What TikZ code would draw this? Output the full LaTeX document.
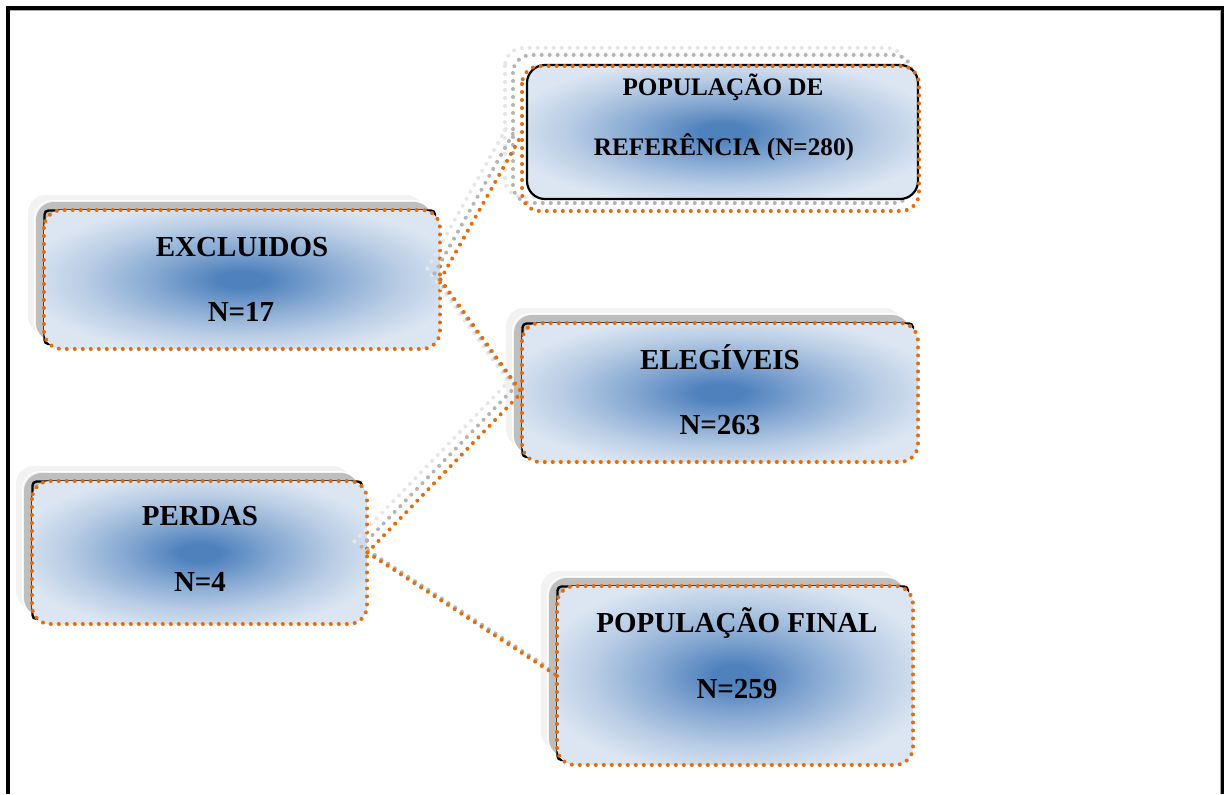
\documentclass[tikz,border=0pt]{standalone}
\usepackage{fontspec}
\setmainfont{Liberation Serif}
\usetikzlibrary{fit}

\definecolor{core}{HTML}{4F81BD}
\definecolor{edgeblue}{HTML}{DCE6F2}
\definecolor{dotorange}{HTML}{E46C0A}
\definecolor{shadegray}{HTML}{BEBEBE}
\definecolor{halogray}{HTML}{F2F2F2}
\definecolor{dotgray}{HTML}{B4B4B4}
\definecolor{dotlight}{HTML}{E6E6E6}

% soft blue glow in the middle of each box
\pgfdeclareradialshading{glow}{\pgfpoint{0bp}{0bp}}{%
  color(0bp)=(core); color(3bp)=(core); color(11bp)=(core!62!edgeblue);
  color(20bp)=(core!25!edgeblue); color(28bp)=(edgeblue); color(50bp)=(edgeblue)}

\tikzset{
  dots/.style={line width=2pt, line cap=round, dash pattern=on 0.01pt off 3.99pt},
  orangedots/.style={dots, draw=dotorange},
  graydots/.style={dots, draw=dotgray},
  lightdots/.style={dots, draw=dotlight},
  lbl/.style={font=\bfseries\fontsize{14.5}{17}\selectfont, inner sep=0pt, anchor=base},
  lblsmall/.style={font=\bfseries\fontsize{12.6}{15}\selectfont, inner sep=0pt, anchor=base},
  area/.style={inner sep=0pt, draw=none},
}

% shadowed, shaded box with dotted orange outline: x1 y1 x2 y2
\newcommand\flowbox[4]{%
  \fill[halogray, rounded corners=9pt] (#1-16,#2-15) rectangle (#3-16,#4-15);
  \draw[white, line width=0.5pt, rounded corners=9pt] (#1-9.5,#2-9.5) rectangle (#3-9.5,#4-9.5);
  \fill[shadegray, rounded corners=9pt] (#1-8,#2-8) rectangle (#3-8,#4-8);
  \draw[black, line width=1.2pt, rounded corners=2pt] (#1+0.5,#2+0.5) rectangle (#3-5,#4-5);
  \shade[shading=glow, rounded corners=9pt] (#1,#2) rectangle (#3,#4);
  \draw[orangedots, rounded corners=9pt] (#1,#2) rectangle (#3,#4);
}

% dotted connector with its two fading shadows
\newcommand\link[2]{%
  \draw[lightdots] ([shift={(-13,-11)}]#1) -- ([shift={(-13,-11)}]#2);
  \draw[graydots] ([shift={(-6,-6)}]#1) -- ([shift={(-6,-6)}]#2);
  \draw[orangedots] (#1) -- (#2);
}

\begin{document}
\begin{tikzpicture}[x=0.5pt, y=-0.5pt]
\useasboundingbox (0,0) rectangle (1224,794);

% outer frame
\draw[line width=2pt] (8,794) -- (8,8) -- (1222,8) -- (1222,794);
\draw[gray!70, line width=0.6pt] (10,10.4) -- (1220.4,10.4) -- (1220.4,794);

% box areas
\node[area, fit={(522,65) (918,205)}] (popref) {};
\node[area, fit={(44,210) (440,349)}] (excl) {};
\node[area, fit={(522,323) (918,462)}] (elig) {};
\node[area, fit={(32,481) (367,624)}] (perdas) {};
\node[area, fit={(557,586) (913,765)}] (final) {};

% reference population box (solid outline, offset dotted rings)
\draw[lightdots, rounded corners=9pt] (505,48) rectangle (905,197);
\draw[graydots, rounded corners=9pt] (513,55) rectangle (912,203);
\shade[shading=glow, rounded corners=9pt] (527,65) rectangle (918,199);
\draw[black, line width=1.1pt, rounded corners=9pt] (527,65) rectangle (918,199);
\draw[orangedots, rounded corners=9pt] (522,66) rectangle (919,211);

% remaining boxes
\flowbox{44}{210}{440}{349}
\flowbox{522}{323}{918}{462}
\flowbox{32}{481}{367}{624}
\flowbox{557}{586}{913}{765}

% connectors
\link{excl.east}{popref.west}
\link{excl.east}{elig.west}
\link{perdas.east}{elig.west}
\link{perdas.east}{final.west}

% labels
\node[lblsmall] (popref-a) at (723,95) {POPULAÇÃO DE};
\node[lblsmall] (popref-b) at (724,155) {REFERÊNCIA (N=280)};
\node[lbl] (excl-a) at (242,256) {EXCLUIDOS};
\node[lbl] (excl-b) at (241,321) {N=17};
\node[lbl] (elig-a) at (720,369) {ELEGÍVEIS};
\node[lbl] (elig-b) at (720,434) {N=263};
\node[lbl] (perdas-a) at (200,525) {PERDAS};
\node[lbl] (perdas-b) at (200,591) {N=4};
\node[lbl] (final-a) at (737,632) {POPULAÇÃO FINAL};
\node[lbl] (final-b) at (737,698) {N=259};
\end{tikzpicture}
\end{document}
